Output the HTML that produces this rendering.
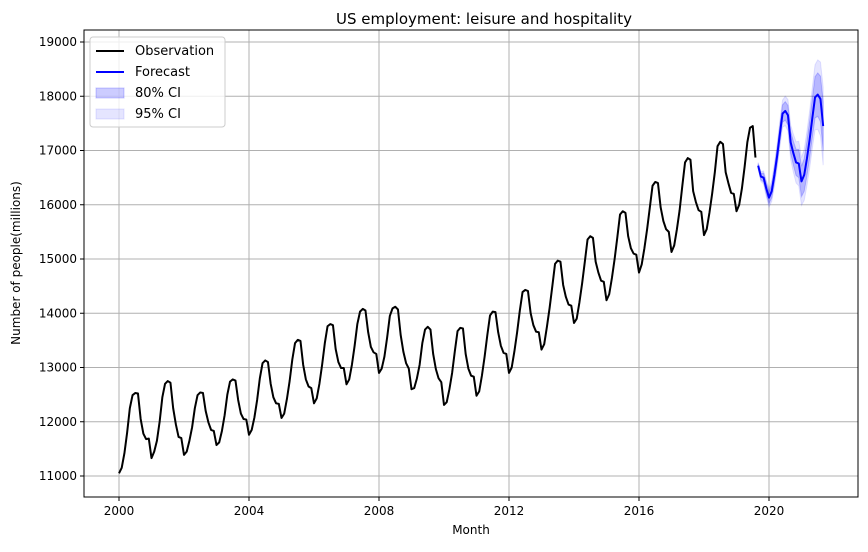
<!DOCTYPE html>
<html><head><meta charset="utf-8"><style>
body{margin:0;background:#fff;font-family:"Liberation Sans","DejaVu Sans",sans-serif}
svg text{font-family:"DejaVu Sans","Liberation Sans",sans-serif}
</style></head><body>
<svg id="chart" width="868" height="547" xmlns="http://www.w3.org/2000/svg"></svg>
<script>
const years=[2000,2001,2002,2003,2004,2005,2006,2007,2008,2009,2010,2011,2012,2013,2014,2015,2016,2017,2018,2019];
const obs=[
[11050,11150,11420,11800,12250,12490,12530,12520,12050,11780,11680,11690],
[11330,11450,11650,12000,12450,12700,12750,12720,12250,11950,11720,11700],
[11390,11450,11650,11900,12250,12490,12540,12530,12200,11990,11850,11830],
[11570,11620,11830,12120,12500,12740,12780,12760,12400,12150,12050,12040],
[11760,11850,12080,12400,12800,13080,13130,13100,12700,12450,12340,12330],
[12070,12150,12420,12750,13150,13450,13510,13490,13050,12780,12650,12620],
[12340,12430,12700,13050,13450,13760,13800,13780,13340,13100,12990,12990],
[12690,12780,13050,13400,13800,14030,14080,14050,13650,13380,13280,13250],
[12900,12980,13200,13550,13950,14090,14120,14070,13600,13290,13080,12980],
[12600,12620,12800,13050,13450,13700,13750,13700,13250,12970,12800,12730],
[12310,12360,12600,12900,13300,13670,13730,13720,13250,12980,12850,12830],
[12480,12560,12850,13200,13600,13960,14030,14020,13650,13400,13270,13250],
[12900,13000,13300,13650,14050,14390,14430,14410,14000,13780,13660,13650],
[13330,13430,13750,14100,14500,14910,14970,14950,14520,14300,14160,14140],
[13820,13900,14200,14550,14950,15360,15420,15390,14950,14750,14600,14580],
[14240,14350,14650,15000,15400,15820,15880,15850,15420,15200,15100,15080],
[14750,14900,15200,15550,15950,16350,16420,16400,15950,15700,15550,15500],
[15130,15250,15550,15900,16350,16780,16860,16830,16250,16050,15900,15870],
[15440,15550,15850,16200,16600,17080,17160,17120,16600,16400,16220,16200],
[15880,16000,16300,16700,17150,17420,17450,16870]];
const fcStart=2019+8/12;
const fc=[16720,16520,16500,16300,16130,16250,16550,16900,17300,17680,17730,17650,17150,16950,16780,16760,16430,16550,16850,17200,17600,17980,18030,17950,17450];
const half80=[40,60,80,100,110,120,130,140,150,160,170,180,200,220,240,260,280,300,320,340,360,380,400,420,450];
const half95=[60,90,120,150,170,190,210,220,240,250,270,290,320,350,380,410,440,470,500,530,560,600,640,680,720];
const xTicks=[2000,2004,2008,2012,2016,2020];
const yTicks=[11000,12000,13000,14000,15000,16000,17000,18000,19000];
const L=84,R=858,T=30,B=497;
const x=t=>119+(t-2000)*32.5;
const y=v=>476-(v-11000)*0.05425;
const svg=document.getElementById('chart');
const NS='http://www.w3.org/2000/svg';
function mk(tag,attrs,parent){const e=document.createElementNS(NS,tag);for(const k in attrs)e.setAttribute(k,attrs[k]);(parent||svg).appendChild(e);return e;}
let g=mk('g',{});


xTicks.forEach(t=>{mk('line',{x1:x(t),x2:x(t),y1:T,y2:B,stroke:'#b0b0b0','stroke-width':1},g);});
yTicks.forEach(v=>{mk('line',{x1:L,x2:R,y1:y(v),y2:y(v),stroke:'#b0b0b0','stroke-width':1},g);});
const fx=i=>x(fcStart+i/12);
let up95=fc.map((v,i)=>fx(i)+','+y(v+half95[i])).join(' ');
let lo95=fc.map((v,i)=>fx(i)+','+y(v-half95[i])).reverse().join(' ');
let ci95=mk('polygon',{points:up95+' '+lo95,fill:'#0000ff','fill-opacity':0.1,stroke:'#0000ff','stroke-opacity':0.1});


let up80=fc.map((v,i)=>fx(i)+','+y(v+half80[i])).join(' ');
let lo80=fc.map((v,i)=>fx(i)+','+y(v-half80[i])).reverse().join(' ');
let ci80=mk('polygon',{points:up80+' '+lo80,fill:'#0000ff','fill-opacity':0.2,stroke:'#0000ff','stroke-opacity':0.2});


let pts=[];
obs.forEach((row,yi)=>row.forEach((v,m)=>pts.push(x(years[yi]+m/12)+','+y(v))));
let ol=mk('polyline',{points:pts.join(' '),fill:'none',stroke:'#000','stroke-width':2,'stroke-linejoin':'round'});


let fl=mk('polyline',{points:fc.map((v,i)=>fx(i)+','+y(v)).join(' '),fill:'none',stroke:'#0000ff','stroke-width':2,'stroke-linejoin':'round'});


let fr=mk('rect',{x:L,y:T,width:R-L,height:B-T,fill:'none',stroke:'#000','stroke-width':1});


xTicks.forEach(t=>{mk('line',{x1:x(t),x2:x(t),y1:B,y2:B+4,stroke:'#000'});
 let tx=mk('text',{x:x(t),y:B+18,'text-anchor':'middle','font-size':12});tx.textContent=t;
 
 });
yTicks.forEach(v=>{mk('line',{x1:L-4,x2:L,y1:y(v),y2:y(v),stroke:'#000'});
 let tx=mk('text',{x:L-7,y:y(v)+4,'text-anchor':'end','font-size':12});tx.textContent=v;
 
 });
let ti=mk('text',{x:484,y:24,'text-anchor':'middle','font-size':15});ti.textContent='US employment: leisure and hospitality';


let xl=mk('text',{x:471,y:534,'text-anchor':'middle','font-size':12});xl.textContent='Month';


let yl=mk('text',{x:0,y:0,'text-anchor':'middle','font-size':12,transform:'translate(20,263) rotate(-90)'});yl.textContent='Number of people(millions)';


let lg=mk('g',{});


mk('rect',{x:90,y:37,width:135,height:90,rx:3,fill:'#fff','fill-opacity':0.8,stroke:'#ccc'},lg);
const items=[['Observation','line','#000'],['Forecast','line','#0000ff'],['80% CI','patch',0.2],['95% CI','patch',0.1]];
items.forEach((it,i)=>{const yy=51+i*21;
 if(it[1]==='line')mk('line',{x1:96,x2:124,y1:yy,y2:yy,stroke:it[2],'stroke-width':2},lg);
 else mk('rect',{x:96,y:yy-5,width:28,height:10,fill:'#0000ff','fill-opacity':it[2],stroke:'#0000ff','stroke-opacity':it[2]},lg);
 let t=mk('text',{x:135,y:yy+4,'font-size':13},lg);t.textContent=it[0];
 
 });
</script>
</body></html>
